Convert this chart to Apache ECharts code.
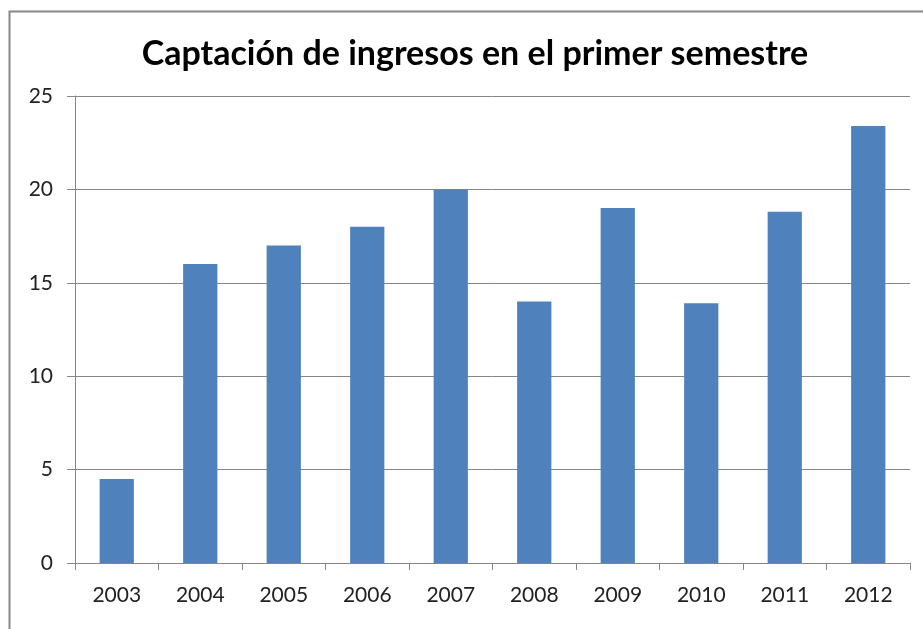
<!DOCTYPE html>
<html>
<head>
<meta charset="utf-8">
<script src="https://cdn.jsdelivr.net/npm/echarts@6/dist/echarts.min.js"></script>
<style>
  html, body { margin: 0; padding: 0; background: #fff; }
  #chart { width: 923px; height: 629px; }
</style>
</head>
<body>
<div id="chart"></div>
<script>
// data
var years = ['2003', '2004', '2005', '2006', '2007', '2008', '2009', '2010', '2011', '2012'];
var ingresos = [4.5, 16, 17, 18, 20, 14, 19, 13.9, 18.8, 23.4];

var myChart = echarts.init(document.getElementById('chart'));
var option = {
  backgroundColor: '#fff',
  animation: false,
  title: {
    text: 'Captación de ingresos en el primer semestre',
    left: 470,
    textAlign: 'center',
    top: 32,
    textStyle: {
      fontFamily: 'Lato',
      fontWeight: 'bold',
      fontSize: 34,
      color: '#000'
    }
  },
  graphic: [{
    type: 'rect',
    shape: { x: 9.5, y: 11.5, width: 940, height: 640 },
    style: { fill: 'none', stroke: '#888', lineWidth: 2 }
  }],
  grid: { left: 75, right: 13, top: 96, bottom: 66 },
  xAxis: {
    type: 'category',
    data: years,
    axisLine: { lineStyle: { color: '#868686', width: 1 } },
    axisTick: { show: true, length: 7, lineStyle: { color: '#868686' } },
    axisLabel: { color: '#222', fontSize: 21, fontFamily: 'Lato', margin: 22 }
  },
  yAxis: {
    type: 'value',
    min: 0,
    max: 25,
    interval: 5,
    axisLine: { show: true, lineStyle: { color: '#868686', width: 1 } },
    axisTick: { show: true, length: 8, lineStyle: { color: '#868686' } },
    splitLine: { lineStyle: { color: '#868686', width: 1 } },
    axisLabel: { color: '#222', fontSize: 21, fontFamily: 'Lato', margin: 22 }
  },
  series: [{
    name: 'Ingresos',
    type: 'bar',
    data: ingresos,
    barWidth: '41%',
    itemStyle: { color: '#4F81BD' }
  }]
};
myChart.setOption(option);
</script>
</body>
</html>
